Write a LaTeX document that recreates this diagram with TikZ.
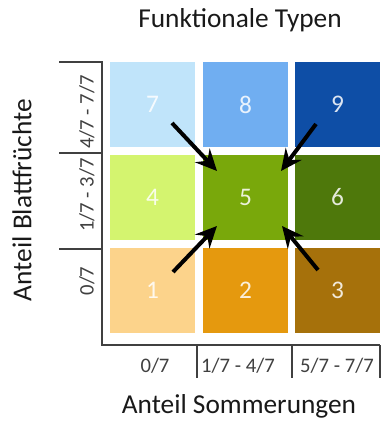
\documentclass[tikz,border=0pt]{standalone}
\usepackage{fontspec}
\setmainfont{Carlito}
\usepackage{tikz}
\usetikzlibrary{positioning,arrows.meta}
\usetikzlibrary{calc}
\definecolor{typ1}{HTML}{FCD38B}
\definecolor{typ2}{HTML}{E5990E}
\definecolor{typ3}{HTML}{A6710B}
\definecolor{typ4}{HTML}{D4F46F}
\definecolor{typ5}{HTML}{79A80B}
\definecolor{typ6}{HTML}{4E780B}
\definecolor{typ7}{HTML}{C0E4FA}
\definecolor{typ8}{HTML}{70AEF1}
\definecolor{typ9}{HTML}{0E4EA6}
\definecolor{achsgrau}{HTML}{404040}
\tikzset{
  feld/.style = {rectangle, inner sep=0pt, minimum width=63.75pt,
    minimum height=63.75pt, text=white, text opacity=0.85,
    font=\fontsize{19}{19}\selectfont},% ein Feld der Matrix
  klasse/.style = {inner sep=0pt, text=achsgrau,
    font=\fontsize{15.5}{16}\selectfont},% Klassen an den Achsen
  titel/.style = {inner sep=0pt, text=black!90,
    font=\fontsize{20.5}{21}\selectfont},
  pfeil/.style = {->, line width=3pt, black}
}

\begin{document}
\begin{tikzpicture}[x=0.75pt, y=-0.75pt, >={Stealth[length=16pt, width=15pt, inset=5.5pt]}]
\useasboundingbox (0,0) rectangle (385,424);
% Matrix der Typen
\node [feld, fill=typ7] (f7) at (152.5,104.5) {7};
\node [feld, fill=typ8] (f8) at (245.5,104.5) {8};
\node [feld, fill=typ9] (f9) at (337.5,104.5) {9};
\node [feld, fill=typ4] (f4) at (152.5,197.5) {4};
\node [feld, fill=typ5] (f5) at (245.5,197.5) {5};
\node [feld, fill=typ6] (f6) at (337.5,197.5) {6};
\node [feld, fill=typ1] (f1) at (152.5,290.5) {1};
\node [feld, fill=typ2] (f2) at (245.5,290.5) {2};
\node [feld, fill=typ3] (f3) at (337.5,290.5) {3};
% Achsen
\draw [achsgrau, line width=1.1pt] (59,62) -- (102,62) -- (102,345) -- (380,345);
\draw [achsgrau, line width=1.1pt] (59,153) -- (102,153);
\draw [achsgrau, line width=1.1pt] (59,249) -- (102,249);
\draw [achsgrau, line width=1.1pt] (197,345) -- (197,378);
\draw [achsgrau, line width=1.1pt] (292,345) -- (292,378);
\draw [achsgrau, line width=1.1pt] (380,345) -- (380,378);
\node [klasse, rotate=90] (y1) at (87,281) {0/7};
\node [klasse, rotate=90] (y2) at (87,195) {1/7 - 3/7};
\node [klasse, rotate=90] (y3) at (87,112) {4/7 - 7/7};
\node [klasse] (x1) at (155,366) {0/7};
\node [klasse] (x2) at (238,366) {1/7 - 4/7};
\node [klasse] (x3) at (337,366) {5/7 - 7/7};
\node [titel] (kopf) at (240,20) {Funktionale Typen};
\node [titel] (xachse) at (239,406) {Anteil Sommerungen};
\node [titel, rotate=90] (yachse) at (22,200) {Anteil Blattfrüchte};
% Pfeile auf Typ 5
\draw [pfeil] ($(f5.center)+(-73.5,-74.5)$) -- ($(f5.center)+(-28.5,-26.5)$);
\draw [pfeil] ($(f5.center)+(70.5,-73.5)$) -- ($(f5.center)+(35.5,-26.5)$);
\draw [pfeil] ($(f5.center)+(-72.5,74.5)$) -- ($(f5.center)+(-28.5,28.5)$);
\draw [pfeil] ($(f5.center)+(72.5,72.5)$) -- ($(f5.center)+(36.5,28.5)$);
\end{tikzpicture}
\end{document}
